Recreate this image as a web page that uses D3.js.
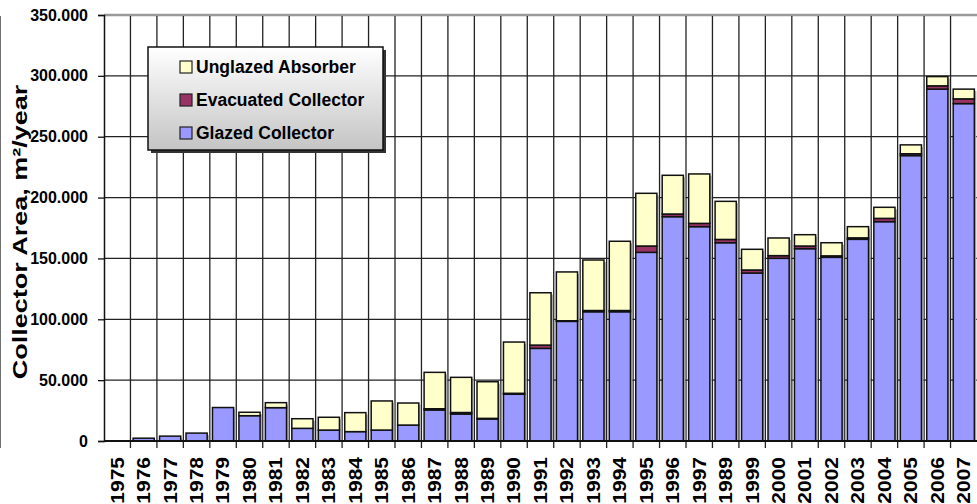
<!DOCTYPE html>
<html>
<head>
<meta charset="utf-8">
<script src="https://cdn.jsdelivr.net/npm/d3@7"></script>
<style>
  html, body { margin: 0; padding: 0; background: #fff; overflow: hidden; }
  svg { display: block; font-family: "Liberation Sans", Arial, sans-serif; font-weight: bold; }
</style>
</head>
<body>
<svg id="chart" width="977" height="504"></svg>
<script>
// ---- data ----
const years = ["1975","1976","1977","1978","1979","1980","1981","1982","1983","1984","1985","1986","1987","1988","1989","1990","1991","1992","1993","1994","1995","1996","1997","1989","1999","2000","2001","2002","2003","2004","2005","2006","2007"];
const glazed = [0,2300,4000,6500,27500,20800,27400,10400,9000,7700,9000,13100,25500,22200,18100,38400,76100,98300,106200,106200,155000,184300,176100,162900,138000,150100,158000,150900,165700,180200,234500,289100,277200];
const evacuated = [0,0,0,0,0,0,0,0,0,0,0,0,1000,1200,500,800,2700,500,1000,1000,5200,2200,2700,2700,2500,2200,2200,1200,1200,2700,1500,2700,3900];
const unglazed = [0,0,0,0,0,2800,4100,7900,10500,15600,23900,18100,29900,28900,30100,42100,43000,40100,41500,56900,43300,31800,40600,31300,17000,14500,9300,10800,9200,9100,7300,7600,8000];
const seriesNames = ["Glazed Collector","Evacuated Collector","Unglazed Absorber"];
const seriesColors = ["#9999FF","#993366","#FFFFCC"];
const yTicks = [0,50000,100000,150000,200000,250000,300000,350000];
const yTitle = "Collector Area, m\u00B2/year";

(function () {
// ---- layout ----
const pL = 104, pR = 977, pT = 15, pB = 441;
const svg = d3.select("#chart");

const idx = d3.range(years.length);
const x = d3.scaleBand().domain(idx).range([pL, pR]).paddingInner(0.2).paddingOuter(0.1);
const y = d3.scaleLinear().domain([0, 350000]).range([pB, pT]);
const step = x.step();
const boundary = i => x(i) - step * x.paddingInner() / 2;

const locale = d3.formatLocale({decimal: ",", thousands: ".", grouping: [3], currency: ["", ""]});
const fmt = locale.format(",");

// horizontal gridlines
svg.append("g").selectAll("line").data(yTicks).join("line")
  .attr("x1", pL).attr("x2", 977)
  .attr("y1", d => y(d)).attr("y2", d => y(d))
  .attr("stroke", d => d === 350000 ? "#999" : "#222")
  .attr("stroke-width", d => d === 350000 ? 2.5 : 1.3);

// vertical gridlines (category boundaries), extend below axis as ticks
svg.append("g").selectAll("line").data(d3.range(1, years.length + 1)).join("line")
  .attr("x1", d => boundary(d)).attr("x2", d => boundary(d))
  .attr("y1", pT + 1).attr("y2", pB + 7)
  .attr("stroke", "#222").attr("stroke-width", 1.3);

// stacked data
const stackData = idx.map(i => ({i, g: glazed[i], e: evacuated[i], u: unglazed[i]}));
const layers = d3.stack().keys(["g","e","u"])(stackData);

// bar shadows
svg.append("g").selectAll("rect").data(stackData.filter(d => d.g + d.e + d.u > 0)).join("rect")
  .attr("x", d => x(d.i) + 2)
  .attr("y", d => y(d.g + d.e + d.u) + 2)
  .attr("width", x.bandwidth())
  .attr("height", d => pB - y(d.g + d.e + d.u) - 2)
  .attr("fill", "#b0b0b0");

// bars
svg.append("g").selectAll("g").data(layers).join("g")
  .attr("fill", (d, k) => seriesColors[k])
  .selectAll("rect").data(d => d.filter(s => s[1] - s[0] > 0)).join("rect")
  .attr("x", d => x(d.data.i))
  .attr("y", d => y(d[1]))
  .attr("width", x.bandwidth())
  .attr("height", d => y(d[0]) - y(d[1]))
  .attr("stroke", "#111").attr("stroke-width", 1.5);

// y axis
const yAxis = svg.append("g").attr("transform", `translate(${pL},0)`)
  .call(d3.axisLeft(y).tickValues(yTicks).tickFormat(fmt).tickSize(6).tickPadding(10));
yAxis.select(".domain").attr("stroke", "#111").attr("stroke-width", 1.5);
yAxis.selectAll(".tick line").attr("stroke", "#111").attr("stroke-width", 1.3);
yAxis.selectAll(".tick text").attr("font-size", 16).attr("font-weight", "bold")
  .attr("font-family", "Liberation Sans, Arial, sans-serif").attr("fill", "#000");

// x axis baseline
svg.append("line").attr("x1", pL).attr("x2", 977).attr("y1", pB).attr("y2", pB)
  .attr("stroke", "#111").attr("stroke-width", 2);

// x labels
const xAxis = svg.append("g").attr("transform", `translate(0,${pB})`)
  .call(d3.axisBottom(x).tickSize(0).tickFormat(i => years[i]));
xAxis.select(".domain").remove();
xAxis.selectAll(".tick text")
  .attr("font-size", 21).attr("font-weight", "bold")
  .attr("font-family", "Liberation Sans, Arial, sans-serif").attr("fill", "#000")
  .attr("text-anchor", "end")
  .attr("transform", "rotate(-90) scale(1,0.85)")
  .attr("x", -16).attr("y", 0).attr("dy", "0.36em");

// y title
svg.append("text")
  .attr("transform", "translate(27,232) rotate(-90) scale(1,0.78)")
  .attr("text-anchor", "middle")
  .attr("font-size", 27).attr("fill", "#000")
  .text(yTitle);

// legend
const defs = svg.append("defs");
const grad = defs.append("linearGradient").attr("id", "lg").attr("x1", 0).attr("y1", 0).attr("x2", 0).attr("y2", 1);
grad.append("stop").attr("offset", "0%").attr("stop-color", "#ffffff");
grad.append("stop").attr("offset", "100%").attr("stop-color", "#c4c4c4");

const lg = svg.append("g");
lg.append("rect").attr("x", 151).attr("y", 50).attr("width", 235).attr("height", 103).attr("fill", "#333");
lg.append("rect").attr("x", 148).attr("y", 47).attr("width", 235).attr("height", 103)
  .attr("fill", "url(#lg)").attr("stroke", "#111").attr("stroke-width", 1.5);
const legendOrder = [2, 1, 0];
const legendY = d3.scalePoint().domain(legendOrder).range([67, 133]);
const items = lg.selectAll("g.item").data(legendOrder).join("g").attr("class", "item")
  .attr("transform", k => `translate(180,${legendY(k)})`);
items.append("rect").attr("x", 0).attr("y", -6).attr("width", 12).attr("height", 12)
  .attr("fill", k => seriesColors[k]).attr("stroke", "#222").attr("stroke-width", 1.2);
items.append("text").attr("x", 16).attr("dy", "0.36em").attr("font-size", 17.5).attr("fill", "#000")
  .text(k => seriesNames[k]);
})();
</script>
</body>
</html>
